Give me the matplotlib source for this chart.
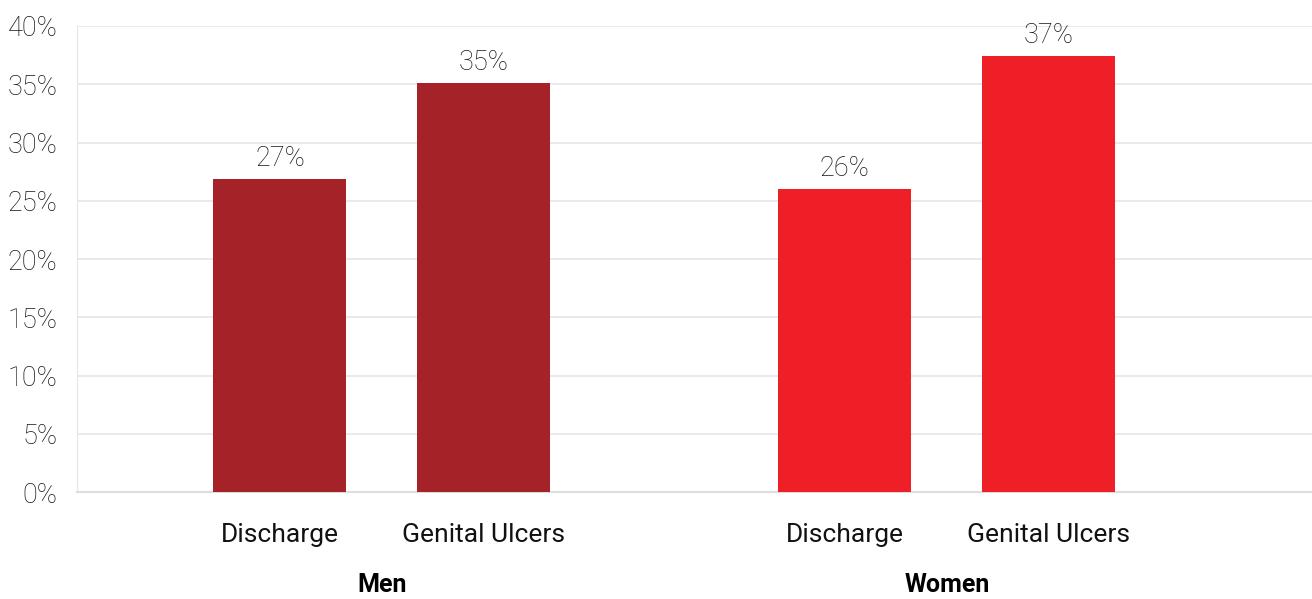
import matplotlib.pyplot as plt
import numpy as np

groups = ['Men', 'Women']
symptoms = ['Discharge', 'Genital Ulcers']
men_values = [26.9, 35.1]
women_values = [26.0, 37.4]
group_colors = ['#a52228', '#ee1f26']
y_ticks = [0, 5, 10, 15, 20, 25, 30, 35, 40]

plt.rcParams['font.family'] = ['Roboto', 'DejaVu Sans']

fig = plt.figure(figsize=(13.12, 5.99), dpi=100)
ax = fig.add_axes([0.0587, 0.1786, 0.9413, 0.778])

group_step = 2.77
bar_width = 0.652
text_color = '#161616'

for g, (name, vals, color) in enumerate(zip(groups, [men_values, women_values], group_colors)):
  xs = g * group_step + np.arange(len(symptoms))
  bars = ax.bar(xs, vals, width=bar_width, color=color, zorder=3)
  for x, v in zip(xs, vals):
    ax.annotate(f'{v:.0f}%', (x, v), xytext=(0, 5), textcoords='offset points',
                ha='center', va='bottom', fontsize=19.5, color=text_color, fontweight='light')
  for x, s in zip(xs, symptoms):
    ax.text(x, -0.093, s, transform=ax.get_xaxis_transform(), ha='center', va='center',
            fontsize=19, color='#111111')
  ax.text(xs.mean(), -0.2, name, transform=ax.get_xaxis_transform(), ha='center', va='center',
          fontsize=18, fontweight='bold', color='#000000')

ax.set_xlim(-0.995, 5.06)
ax.set_ylim(0, 40)
ax.set_yticks(y_ticks)
ax.set_yticklabels([f'{t}%' for t in y_ticks], fontsize=19.5, color=text_color, fontweight='light')
ax.set_xticks([])
ax.tick_params(axis='y', length=0, pad=14)

ax.grid(axis='y', color='#e6e6e6', linewidth=1.2, zorder=0)
for side in ['top', 'right']:
  ax.spines[side].set_visible(False)
ax.spines['left'].set_color('#e6e6e6')
ax.spines['bottom'].set_color('#dddddd')
ax.spines['bottom'].set_linewidth(1.5)

fig.savefig('out.png', dpi=100)
